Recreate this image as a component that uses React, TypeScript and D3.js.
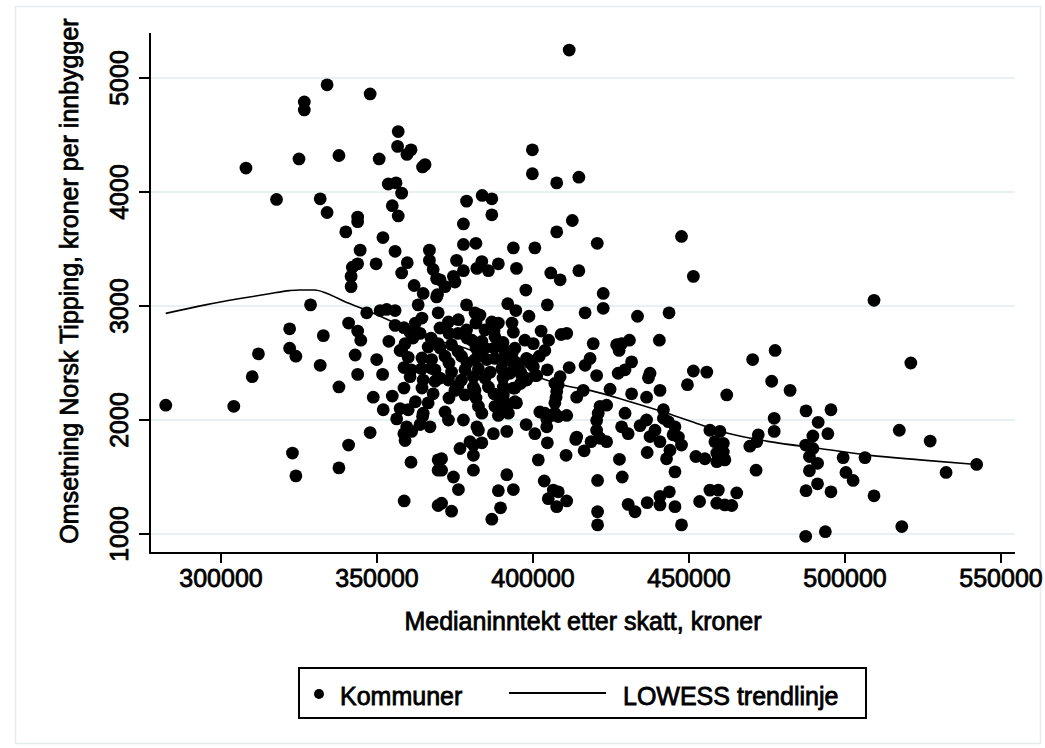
import React from "react";
import * as d3 from "d3";

// Kommuner: [medianinntekt etter skatt (kr), omsetning Norsk Tipping per innbygger (kr)]
const kommunerTopp: [number, number][] = [
  [308000,4210],[317800,3935],[325000,4290],[326700,4790],[326700,4720],[331800,3940],[334000,3820],[334000,4940],[337800,4320],[340000,3650],[343800,3780],[343800,3740],[344600,3490],[343800,3370],[342100,3340],[341700,3260],[341700,3170],[347800,4860],[350700,4290],[351900,3600],[349700,3370],[356800,4530],[356600,4400],[360900,4370],[359600,4330],[365400,4240],[364600,4220],[353600,4070],[356100,4080],[357900,3990],[354900,3880],[356800,3790],[355800,3480],[359700,3380],[357900,3290],[361900,3180],[366800,3490],[366800,3400],[368000,3320],[369100,3240],[364800,3110],[369400,3100],[328700,3010],
];

const kommunerVenstre: [number, number][] = [
  [282300,2130],[304100,2120],[310000,2380],[312000,2580],[322000,2800],[322000,2630],[324000,2560],[332800,2740],[331800,2480],[322900,1710],[324000,1510],[337800,2290],[340900,2850],[343800,2780],[344800,2700],[343000,2570],[343800,2400],[346700,2940],[351000,2960],[353100,2970],[355800,2960],[355800,2830],[353800,2690],[357400,2610],[349900,2530],[351800,2400],[348800,2200],[354900,2210],[352000,2090],[357400,2100],[362300,2160],[356300,2010],[358600,1880],[359500,1940],[361100,1900],[359000,1820],[364600,2030],[363800,1960],[367000,1940],[347800,1890],[340900,1780],[337800,1580],[360900,1630],[358700,1290],[369600,1650],[369600,1560],[369600,1250],
];

const kommunerMidtTopp: [number, number][] = [
  [411600,5245],[399800,4370],[399800,4160],[407600,4080],[414700,4130],[378700,3920],[383700,3970],[386800,3940],[386800,3800],[377700,3720],[377700,3540],[381700,3550],[393700,3510],[400600,3510],[407600,3650],[412600,3750],[420600,3550],[447600,3610],[451400,3260],[375500,3400],[383600,3390],[388900,3370],[382000,3330],[385700,3310],[377700,3310],[374500,3260],[370200,3230],[371800,3170],[394700,3330],[397700,3140],[405700,3290],[408700,3230],[414700,3310],[422500,3110],
];

const kommunerMidt: [number, number][] = [
  [422500,2980],[416700,2940],[404600,3010],[391900,3020],[394500,2960],[398700,2910],[433500,2910],[443600,2940],[440500,2700],[378700,3010],[369100,3080],[419300,2670],[409000,2750],[410800,2760],[402600,2780],[393700,2770],[426800,2660],[428400,2670],[430900,2700],[427600,2610],[403800,2610],[431600,2510],[418300,2540],[416700,2480],[411600,2460],[404600,2440],[420400,2390],[427300,2410],[429500,2440],[437500,2410],[437000,2370],[451400,2430],[455700,2420],[449500,2310],[424700,2270],[431600,2230],[436400,2200],[440700,2260],[462100,2220],[414000,2200],[416100,2260],[408100,2310],[407400,2200],[408700,2380],[400600,2390],[399000,2500],[397900,2540],[393700,2500],[391600,2540],[394200,2280],[392600,2410],[394700,2150],[389400,2150],[390500,2220],[389400,2070],[391600,2100],[403800,2060],[402200,2070],[406000,2040],[408100,2030],[410800,2040],[404400,1940],[397800,1960],[400600,1880],[391600,1900],[387300,1880],[382500,1910],[383600,1800],[380900,1780],[379800,1810],[376600,1750],[380900,1690],[380900,1560],[370700,1660],[370700,1560],[374500,1500],[376100,1390],[370700,1270],[373900,1200],[386800,1130],[388900,1380],[389600,1230],[391600,1520],[393700,1390],[401700,1650],[404600,1800],[410600,1690],[413700,1830],[416400,1730],[418600,1810],[421500,1840],[423600,1810],[420400,1910],[420400,1995],[420900,2060],[421500,2120],[423600,2130],[428400,1940],[430500,1880],[429500,2060],[427700,1655],[428600,1500],[420700,1470],[403600,1465],[406500,1385],[408100,1370],[404900,1310],[407600,1240],[410800,1290],[420700,1195],[420700,1080],[430500,1260],[432700,1195],[436600,1275],[440700,1330],[443700,1370],[440700,1255],[445500,1240],[447600,1080],[445500,1545],[436600,1715],[442800,1660],[443900,1735],[434300,1950],[436400,2000],[437500,1855],[439100,1910],[440700,1810],[441800,2090],[443400,1985],[445500,1940],[446600,1850],[447600,1780],[444900,1870],[441800,2015],[452200,1680],[455100,1660],[456700,1910],[459900,1900],[458300,1810],[461000,1795],[458900,1710],[461000,1720],[461500,1650],[458900,1635],[453400,1285],[456700,1385],[459400,1385],[458900,1270],[461500,1255],[414000,1850],
];

const kommunerHoyre: [number, number][] = [
  [509300,3050],[521100,2500],[470400,2530],[477600,2610],[476500,2340],[482400,2260],[487500,2080],[495500,2090],[491400,1980],[494500,1880],[477300,2015],[477300,1900],[472200,1870],[471700,1810],[469500,1770],[517400,1910],[527300,1815],[489700,1860],[487400,1780],[489700,1750],[488600,1680],[499400,1670],[506400,1670],[542200,1610],[532400,1540],[471500,1560],[491200,1620],[488600,1555],[500300,1540],[502600,1470],[509300,1335],[491200,1440],[487500,1380],[495500,1370],[487400,980],[493700,1020],[518200,1065],[465300,1360],[463700,1250],
];

const kommunerKjerneA: [number, number][] = [
  [363200,3010],[375000,3210],[381400,2940],[369600,2940],[372900,2860],[376100,2880],[362300,2850],[360600,2770],[363800,2760],[378700,2790],[380400,2700],[359000,2670],[357900,2610],[360000,2550],[366400,2640],[369600,2670],[373900,2660],[367500,2530],[371800,2560],[377100,2560],[381400,2530],[361000,2440],[364300,2450],[368600,2440],[373900,2420],[378200,2440],[360600,2380],[364800,2350],[368600,2340],[372900,2350],[377100,2350],[380900,2380],[375000,2260],[378200,2220],[380900,2290],[366400,2150],[360000,2090],[364800,2060],[371800,2070],[372900,2000],[377700,2000],[382000,1940],
];

const kommunerKjerneB: [number, number][] = [
  [383000,2920],[386800,2860],[388900,2850],[384600,2790],[387800,2730],[383600,2690],[397400,2700],[400100,2670],[394200,2630],[391000,2610],[382500,2590],[385200,2530],[387800,2540],[390500,2540],[394200,2510],[398500,2530],[400100,2470],[382500,2450],[386300,2420],[390000,2450],[401200,2390],[395300,2470],[396400,2390],[407000,2320],[385700,2290],[381400,2260],[393700,2280],[390500,2290],[389400,2220],[387800,2120],[391000,2150],[394200,2160],[383600,2060],[382500,2120],[388900,2040],[392100,2060],[404400,2010],[407000,2060],[407600,2250],[407000,2150],
];

const kommunerKjerneC: [number, number][] = [
  [358650,2810],[364420,2894],[370190,2807],[375960,2760],[381730,2850],[387500,2780],[393270,2850],
  [361540,2719],[367310,2719],[373070,2760],[378840,2719],[384610,2631],[390380,2680],
  [358650,2460],[364420,2544],[370190,2631],[375960,2600],[381730,2631],[387500,2631],[393270,2580],
  [367310,2456],[373070,2500],[378840,2500],[384610,2368],[390380,2368],[396000,2320],
  [358650,2280],[364420,2280],[370190,2368],[375960,2300],[381730,2193],[387500,2230],[373070,2193],[368000,2230],
  [398000,2350],[402000,2560],[405000,2700],[396000,2420],
];

// LOWESS trendlinje
const lowessTrend: [number, number][] = [
  [282300,2935],[295000,3010],[306100,3065],[315000,3105],[322000,3135],[325000,3140],[330000,3140],[334000,3110],[340300,3030],[345100,2980],[355000,2860],[367000,2710],[375000,2660],[390000,2500],[409700,2305],[418300,2260],[431100,2160],[441800,2070],[452500,1970],[463100,1880],[475900,1810],[491900,1750],[508000,1690],[524000,1650],[542200,1610],
];

const xTicks = [300000, 350000, 400000, 450000, 500000, 550000];
const yTicks = [1000, 2000, 3000, 4000, 5000];

const xTitle = "Medianinntekt etter skatt, kroner";
const yTitle = "Omsetning Norsk Tipping, kroner per innbygger";
const legendItems = ["Kommuner", "LOWESS trendlinje"];

const FONT = "'Liberation Sans', Arial, Helvetica, sans-serif";

export default function App() {
  const W = 1045, H = 748;
  const left = 150, right = 1015, top = 33, bottom = 553;
  const x = d3.scaleLinear().domain([277244, 554487]).range([left, right]);
  const y = d3.scaleLinear().domain([833.3, 5394.7]).range([bottom, top]);
  const points = [
    ...kommunerTopp, ...kommunerVenstre, ...kommunerMidtTopp, ...kommunerMidt,
    ...kommunerHoyre, ...kommunerKjerneA, ...kommunerKjerneB, ...kommunerKjerneC,
  ];
  const line = d3.line<[number, number]>().x(d => x(d[0])).y(d => y(d[1])).curve(d3.curveMonotoneX);
  const txt = { fontFamily: FONT, fontSize: 25, fill: "#000", stroke: "#000", strokeWidth: 0.8 } as const;

  return (
    <svg width={W} height={H} viewBox={`0 0 ${W} ${H}`}
      style={{ position: "absolute", left: 0, top: 0, background: "#fff" }}>
      <rect x={15.5} y={6.5} width={1025} height={737} fill="#fff" stroke="#e6ecee" strokeWidth={1.5} />
      {/* gridlines */}
      {yTicks.map(t => (
        <line key={"g" + t} x1={left} x2={right} y1={y(t)} y2={y(t)} stroke="#e8f0f2" strokeWidth={2} />
      ))}
      {/* points */}
      {points.map((p, i) => (
        <circle key={i} cx={x(p[0])} cy={y(p[1])} r={6.4} fill="#000" />
      ))}
      {/* lowess */}
      <path d={line(lowessTrend) || ""} fill="none" stroke="#000" strokeWidth={1.6} />
      {/* axes */}
      <line x1={left} x2={left} y1={top} y2={bottom + 1} stroke="#000" strokeWidth={2} />
      <line x1={left - 1} x2={right} y1={bottom} y2={bottom} stroke="#000" strokeWidth={2} />
      {yTicks.map(t => (
        <g key={"y" + t}>
          <line x1={left - 11} x2={left} y1={y(t)} y2={y(t)} stroke="#000" strokeWidth={2} />
          <text transform={`translate(128,${y(t)}) rotate(-90)`} textAnchor="middle" {...txt}>{t}</text>
        </g>
      ))}
      {xTicks.map(t => (
        <g key={"x" + t}>
          <line x1={x(t)} x2={x(t)} y1={bottom} y2={bottom + 10} stroke="#000" strokeWidth={2} />
          <text x={x(t)} y={587} textAnchor="middle" {...txt}>{t}</text>
        </g>
      ))}
      <text x={583} y={630} textAnchor="middle" {...txt}>{xTitle}</text>
      <text transform="translate(78,281) rotate(-90)" textAnchor="middle" {...txt}>{yTitle}</text>
      {/* legend */}
      <rect x={299} y={668} width={567} height={50} fill="#fff" stroke="#000" strokeWidth={2} />
      <circle cx={319} cy={694} r={5} fill="#000" />
      <text x={340} y={705} {...txt}>{legendItems[0]}</text>
      <line x1={509} x2={606} y1={693} y2={693} stroke="#000" strokeWidth={2} />
      <text x={623} y={705} {...txt}>{legendItems[1]}</text>
    </svg>
  );
}
